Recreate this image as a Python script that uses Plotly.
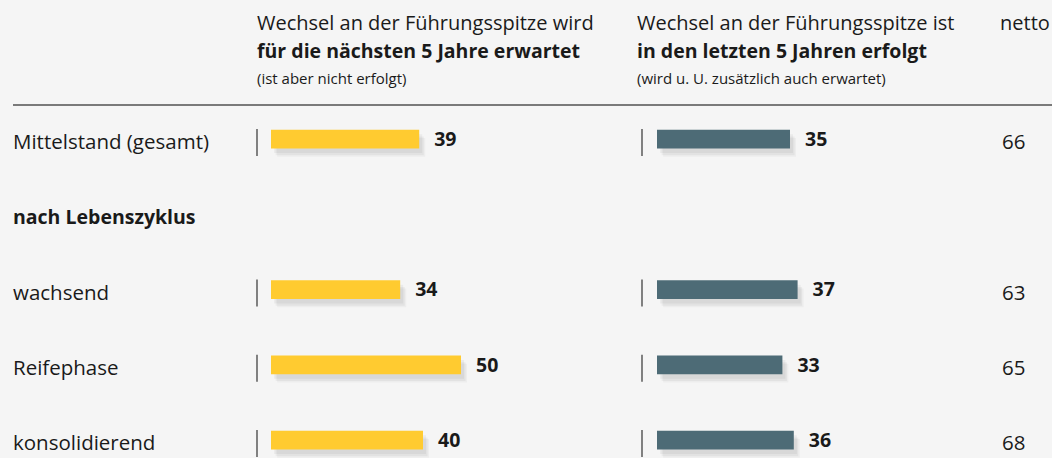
import plotly.graph_objects as go

rows = ["Mittelstand (gesamt)", "nach Lebenszyklus", "wachsend", "Reifephase", "konsolidierend"]
row_bold = [False, True, False, False, False]
erwartet = [39, None, 34, 50, 40]
erfolgt = [35, None, 37, 33, 36]
netto = [66, None, 63, 65, 68]

W, H = 1052, 458
BG = "#f5f5f5"
YELLOW = "#ffcb30"
TEAL = "#4d6b76"
TXT = "#1a1a1a"
FONT = "Open Sans"
REG = 20.5
BOLD = 19.5
SMALL = 15
PX_PER_UNIT = 3.8

# pixel layout helpers
left0, left1 = 271, 620
right0, right1 = 657, 990
row_top_px, row_bot_px = 141, 442
step = (row_bot_px - row_top_px) / (len(rows) - 1)
y_range = [len(rows) - 1 + (H - row_bot_px) / step, -row_top_px / step]

fig = go.Figure()

def add_col(vals, color, xa, ya):
    ys = [r for r, v in zip(rows, vals) if v is not None]
    xs = [v for v in vals if v is not None]
    # soft shadow
    for alpha, off, base in [(0.045, -0.06, 1.2), (0.045, -0.09, 0.8), (0.03, -0.04, 1.6)]:
        fig.add_trace(go.Bar(x=xs, base=base, y=ys, orientation="h",
                             width=0.25, offset=off, marker=dict(color=f"rgba(0,0,0,{alpha})", line=dict(width=0)),
                             xaxis=xa, yaxis=ya, hoverinfo="skip", showlegend=False))
    fig.add_trace(go.Bar(x=xs, y=ys, orientation="h", width=0.25, offset=-0.15,
                         marker=dict(color=color, line=dict(width=0)),
                         xaxis=xa, yaxis=ya, showlegend=False))
    fig.add_trace(go.Scatter(x=[x + 15 / PX_PER_UNIT for x in xs], y=ys,
                             mode="text", text=[f"<b>{x}</b>" for x in xs],
                             textposition="middle right",
                             textfont=dict(family=FONT, size=BOLD, color=TXT),
                             xaxis=xa, yaxis=ya, showlegend=False, hoverinfo="skip"))

add_col(erwartet, YELLOW, "x", "y")
add_col(erfolgt, TEAL, "x2", "y")

axis_common = dict(showgrid=False, zeroline=False, showticklabels=False, showline=False, fixedrange=True)
fig.update_layout(
    width=W, height=H, margin=dict(l=0, r=0, t=0, b=0),
    paper_bgcolor=BG, plot_bgcolor=BG, barmode="overlay",
    xaxis=dict(domain=[left0 / W, left1 / W], range=[0, (left1 - left0) / PX_PER_UNIT], **axis_common),
    xaxis2=dict(domain=[right0 / W, right1 / W], range=[0, (right1 - right0) / PX_PER_UNIT], anchor="y", **axis_common),
    yaxis=dict(domain=[0, 1], type="category", categoryarray=rows, range=y_range, **axis_common),
)

shapes = []
annotations = []
# header rule
shapes.append(dict(type="line", xref="paper", yref="paper", x0=13 / W, x1=1, y0=1 - 105 / H, y1=1 - 105 / H,
                   line=dict(color="#7a7a7a", width=2)))
for i, r in enumerate(rows):
    annotations.append(dict(xref="paper", yref="y", x=11 / W, y=r, xanchor="left", yanchor="middle",
                            text=f"<b>{r}</b>" if row_bold[i] else r, showarrow=False,
                            font=dict(family=FONT, size=BOLD if row_bold[i] else REG, color=TXT)))
    if erwartet[i] is not None:
        for xp in (257, 642):
            shapes.append(dict(type="line", xref="paper", yref="y", x0=xp / W, x1=xp / W,
                               y0=i - 0.16, y1=i + 0.2, line=dict(color="#333333", width=1.2)))
    if netto[i] is not None:
        annotations.append(dict(xref="paper", yref="y", x=1013 / W, y=r, xanchor="center", yanchor="middle",
                                text=str(netto[i]), showarrow=False,
                                font=dict(family=FONT, size=REG, color=TXT)))

def hdr(x, y, text, size, bold=False):
    annotations.append(dict(xref="paper", yref="paper", x=x / W, y=1 - y / H, xanchor="left", yanchor="middle",
                            text=f"<b>{text}</b>" if bold else text, showarrow=False,
                            font=dict(family=FONT, size=size, color=TXT)))

hdr(255, 22, "Wechsel an der Führungsspitze wird", 20)
hdr(255, 51, "für die nächsten 5 Jahre erwartet", BOLD, True)
hdr(255, 78, "(ist aber nicht erfolgt)", SMALL)
hdr(635, 22, "Wechsel an der Führungsspitze ist", 20)
hdr(635, 51, "in den letzten 5 Jahren erfolgt", BOLD, True)
hdr(635, 78, "(wird u. U. zusätzlich auch erwartet)", SMALL)
hdr(998, 22, "netto", 20)

fig.update_layout(shapes=shapes, annotations=annotations)
fig.write_html("out.html", config={"displayModeBar": False},
               post_script="document.body.style.margin='0';document.body.style.padding='0';")
